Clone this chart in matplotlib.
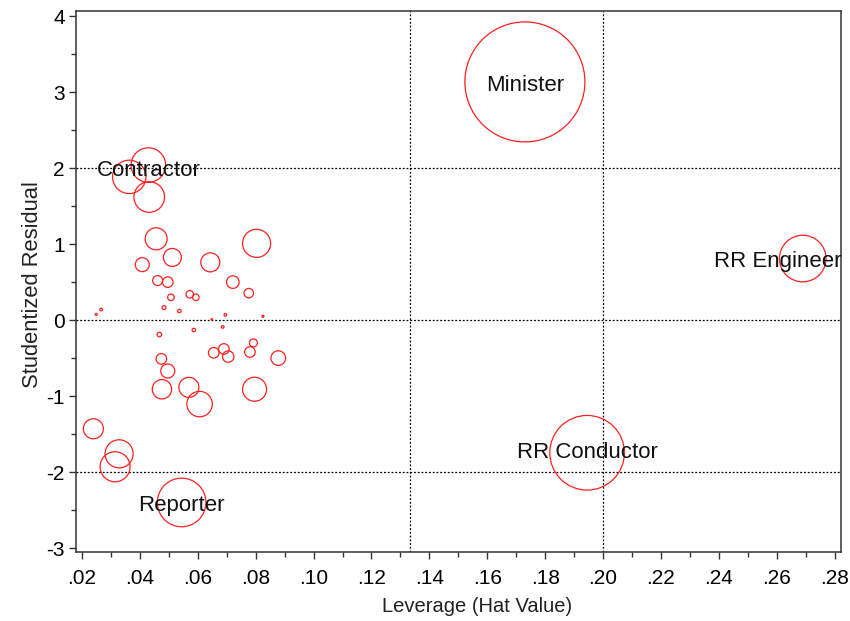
import numpy as np
import matplotlib.pyplot as plt
from matplotlib.ticker import MultipleLocator, FuncFormatter

plt.rcParams['font.family'] = ['Liberation Sans', 'DejaVu Sans']
plt.rcParams['axes.unicode_minus'] = False

# hat values, studentized residuals and Cook's distance
leverage = [0.0456, 0.0803, 0.0512, 0.0408, 0.0643, 0.0461, 0.0496, 0.0721,
            0.0776, 0.0507, 0.0572, 0.0593, 0.0483, 0.0536, 0.0266, 0.0249,
            0.0695, 0.0648, 0.0825, 0.0686, 0.0586, 0.0467, 0.0792, 0.0690,
            0.0655, 0.0780, 0.0705, 0.0878, 0.0474, 0.0496, 0.0569, 0.0476,
            0.0796, 0.0606, 0.0239, 0.0363, 0.0432, 0.0328, 0.0314,
            0.0429, 0.0544, 0.1730, 0.1945, 0.2690]
rstudent = [1.07, 1.01, 0.825, 0.73, 0.76, 0.52, 0.50, 0.50,
            0.355, 0.30, 0.34, 0.30, 0.165, 0.12, 0.14, 0.075,
            0.07, 0.01, 0.05, -0.09, -0.13, -0.19, -0.30, -0.38,
            -0.43, -0.42, -0.48, -0.50, -0.51, -0.67, -0.885, -0.91,
            -0.91, -1.105, -1.43, 1.885, 1.62, -1.76, -1.93,
            2.04, -2.40, 3.135, -1.746, 0.81]
cooks = [0.019, 0.031, 0.0127, 0.0077, 0.0142, 0.0039, 0.0044, 0.0062,
         0.0035, 0.0017, 0.0022, 0.0017, 0.0006, 0.00045, 0.00027, 0.00016,
         0.00027, 0.00008, 0.00016, 0.00027, 0.00045, 0.0008, 0.0025, 0.0044,
         0.0044, 0.0044, 0.0051, 0.0084, 0.0044, 0.0077, 0.0157, 0.0148,
         0.0226, 0.0254, 0.0157, 0.0438, 0.0368, 0.031, 0.0354,
         0.047, 0.0928, 0.566, 0.219, 0.0853]

label_names = ['Contractor', 'Reporter', 'Minister', 'RR Conductor', 'RR Engineer']
label_x = [0.0429, 0.0544, 0.1730, 0.1945, 0.2605]
label_y = [1.97, -2.44, 3.09, -1.74, 0.77]

hat_cut = [0.1333, 0.20]
res_cut = [-2, 0, 2]

fig = plt.figure(figsize=(8.5, 6.21), dpi=100)
ax = fig.add_axes([0.0894, 0.111, 0.8996, 0.871])

sizes = np.array(cooks) * 13190
ax.scatter(leverage, rstudent, s=sizes, facecolors='none',
           edgecolors='#ff2020', linewidths=0.9, zorder=3)

for v in hat_cut:
    ax.axvline(v, color='black', ls=(0, (1.5, 1.5)), lw=0.9, zorder=1)
for v in res_cut:
    ax.axhline(v, color='black', ls=(0, (1.5, 1.5)), lw=0.9, zorder=1)

for name, x, y in zip(label_names, label_x, label_y):
    ax.text(x, y, name, ha='center', va='center', fontsize=16, color='#111111', zorder=4)

ax.set_xlim(0.0179, 0.2821)
ax.set_ylim(-3.053, 4.066)
ax.xaxis.set_major_locator(MultipleLocator(0.02))
ax.xaxis.set_minor_locator(MultipleLocator(0.01))
ax.yaxis.set_major_locator(MultipleLocator(1))
ax.yaxis.set_minor_locator(MultipleLocator(0.5))
ax.xaxis.set_major_formatter(FuncFormatter(lambda v, p: f"{v:.2f}".lstrip('0')))
ax.yaxis.set_major_formatter(FuncFormatter(lambda v, p: f"{v:.0f}"))

ax.tick_params(which='major', length=5, width=1, labelsize=15, color='#333333')
ax.tick_params(which='minor', length=3.5, width=1, color='#333333')
ax.tick_params(axis='x', which='major', pad=7)
ax.tick_params(axis='y', which='major', pad=3)
for sp in ax.spines.values():
    sp.set_color('#333333')
    sp.set_linewidth(1.1)

ax.set_xlabel('Leverage (Hat Value)', fontsize=14.5, color='#222222', labelpad=7)
ax.xaxis.label.set_x(0.525)
ax.set_ylabel('Studentized Residual', fontsize=15.8, color='#222222')
ax.yaxis.set_label_coords(-0.043, 0.495)

fig.savefig('out.png', dpi=100)
